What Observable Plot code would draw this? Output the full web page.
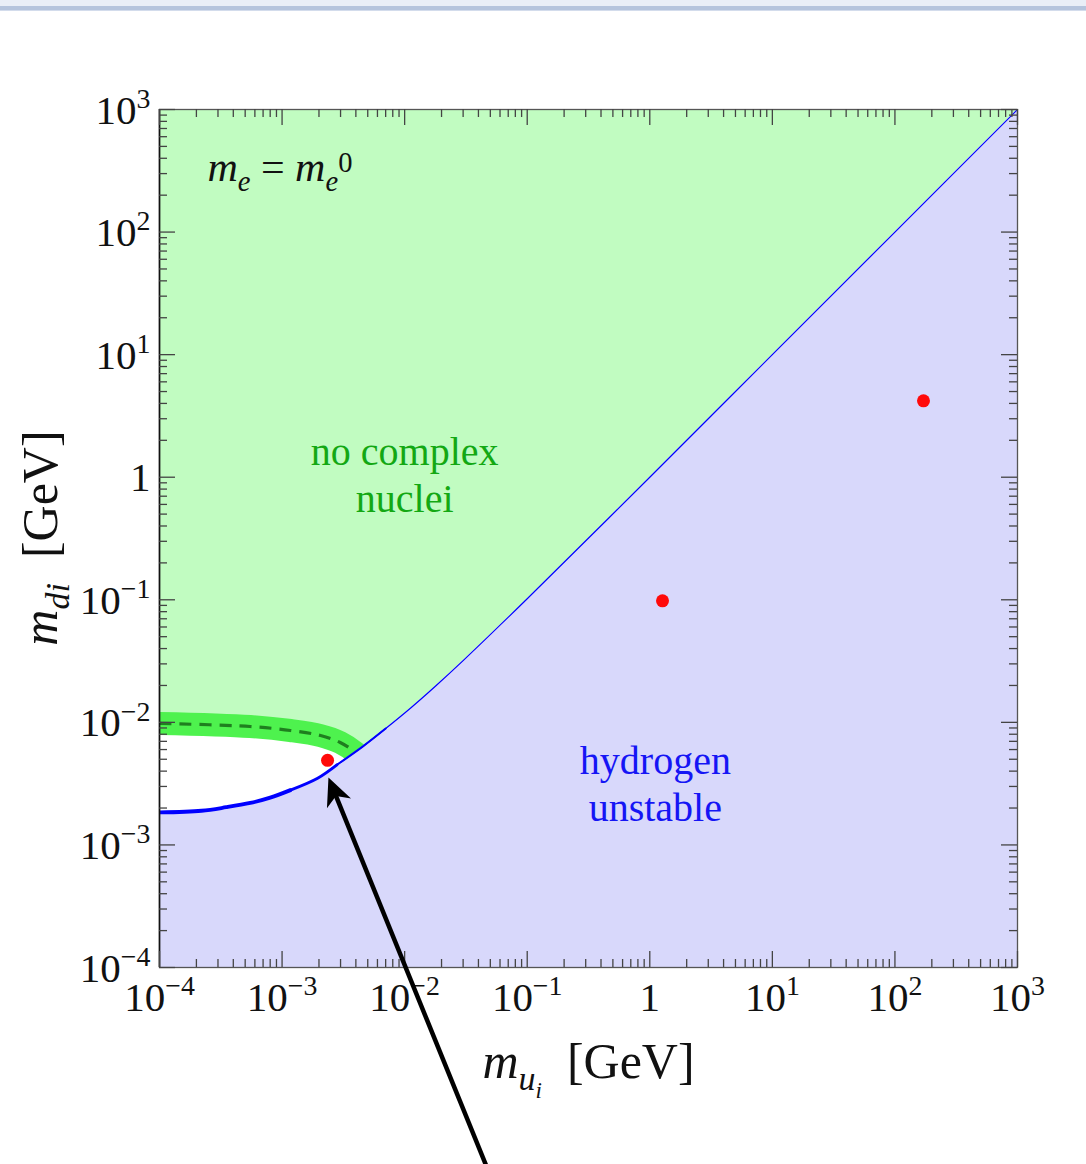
<!DOCTYPE html>
<html>
<head>
<meta charset="utf-8">
<script src="https://cdn.jsdelivr.net/npm/d3@7"></script>
<script src="https://cdn.jsdelivr.net/npm/@observablehq/plot@0.6"></script>
<style>
  body { margin: 0; background: #fff; }
  #chrome { position: absolute; left: 0; top: 0; width: 1086px; height: 11px;
    background: linear-gradient(#e9eef7 0 6px, #b5c4dd 6px 10px, #d3dcec 10px 11px); }
</style>
</head>
<body>
<div id="chrome"></div>
<div id="chart"></div>
<script>
// Quark masses (GeV): up-type on x, down-type on y, one point per generation
const quarkMu = [0.00235, 1.27, 171];
const quarkMd = [0.0049, 0.098, 4.2];

// Boundary below which hydrogen is unstable (m_d vs m_u, GeV)
const hydrogenEdge = [
  [1e-4, 0.00184], [2.2e-4, 0.0019], [3.5e-4, 0.00203], [5.5e-4, 0.0022],
  [8e-4, 0.00243], [0.00117, 0.0028], [0.00195, 0.0035], [0.0028, 0.0045],
  [0.0046, 0.0064], [0.007, 0.0089], [0.0112, 0.0131], [0.018, 0.0199],
  [0.03, 0.0319], [0.1, 0.102], [1, 1.0], [10, 10], [100, 100], [1000, 1000]
];

// Centre of the complex-nuclei band (dashed curve)
const nucleiBand = [
  [1e-4, 0.0098], [5.5e-4, 0.00925], [0.00117, 0.00858], [0.00206, 0.00781],
  [0.00298, 0.00685], [0.00397, 0.00567], [0.00507, 0.00437]
];

// Axis ticks and their labels
const majorTicks = [1e-4, 1e-3, 1e-2, 1e-1, 1, 10, 100, 1000];
const tickLabels = ["10^{−4}", "10^{−3}", "10^{−2}", "10^{−1}", "1", "10^{1}", "10^{2}", "10^{3}"];
const minorTicks = d3.range(-4, 3).flatMap(e => d3.range(2, 10).map(m => m * 10 ** e));

// Region labels
const regionLabels = [
  {text: "no complex\nnuclei", mu: 0.01, md: 1.07, color: "#13a813"},
  {text: "hydrogen\nunstable", mu: 1.11, md: 0.00323, color: "#1515f5"}
];
const panelLabel = {text: "$m$_{$e$} = $m$_{$e$}^[0.2]{0}", mu: 2.46e-4, md: 263};
const yTitle = {text: "$m$_{$di$}  [GeV]", md: 0.319};

// Arrow pointing at the first-generation point
const arrowTail = [0.05, 2e-6];
const arrowTip = [0.00239, 0.00355];

const width = 1086, height = 1164;
const margin = {left: 159, right: 69, top: 109, bottom: 197};
const frameW = width - margin.left - margin.right;
const frameH = height - margin.top - margin.bottom;
const majorLen = 16, minorLen = 8;
const serif = "'Liberation Serif', 'Times New Roman', serif";

const labelOf = v => tickLabels[majorTicks.indexOf(v)];
const whiteGap = [
  ...hydrogenEdge.filter(d => d[0] <= 0.0046),
  ...nucleiBand.filter(d => d[0] <= 0.004).reverse()
];

// Both axes span seven decades over a square frame, so the screen angle
// follows directly from the log ratios.
const arrowAngle = Math.atan2(
  Math.log10(arrowTip[0] / arrowTail[0]),
  Math.log10(arrowTip[1] / arrowTail[1])
) * 180 / Math.PI;

const arrowHead = {
  draw(ctx, size) {
    const s = Math.sqrt(size / Math.PI) / 12;
    ctx.moveTo(0, 0);
    ctx.lineTo(-13 * s, 28 * s);
    ctx.lineTo(0, 20 * s);
    ctx.lineTo(13 * s, 28 * s);
    ctx.closePath();
  }
};

const tickStyle = {stroke: "#444", strokeWidth: 1.3};
const xy = {x: d => d[0], y: d => d[1]};

const chart = Plot.plot({
  width, height,
  marginLeft: margin.left, marginRight: margin.right,
  marginTop: margin.top, marginBottom: margin.bottom,
  style: {fontFamily: serif, background: "transparent"},
  x: {type: "log", domain: [1e-4, 1e3], axis: null},
  y: {type: "log", domain: [1e-4, 1e3], axis: null},
  marks: [
    Plot.frame({fill: "#c1fcc1", stroke: "none"}),
    Plot.line(whiteGap, {...xy, fill: "white", stroke: "none", clip: true}),
    Plot.line(nucleiBand, {...xy, stroke: "#4ef24e", strokeWidth: 23,
      strokeLinecap: "butt", curve: "catmull-rom", clip: true}),
    Plot.line(nucleiBand, {...xy, stroke: "#1f7f1f", strokeWidth: 3.2,
      strokeDasharray: "12,8", strokeLinecap: "butt", curve: "catmull-rom", clip: true}),
    Plot.areaY(hydrogenEdge, {x: d => d[0], y1: () => 1e-4, y2: d => d[1], fill: "#d8d8fb",
      curve: "catmull-rom", clip: true}),
    Plot.line(hydrogenEdge, {...xy, stroke: "#0000ff", strokeWidth: 1.2, curve: "catmull-rom", clip: true}),
    Plot.line(hydrogenEdge.slice(0, 6), {...xy, stroke: "#0000ff", strokeWidth: 3.8, curve: "catmull-rom", clip: true}),
    Plot.line(hydrogenEdge.slice(5, 8), {...xy, stroke: "#0000ff", strokeWidth: 3, curve: "catmull-rom"}),
    Plot.line(hydrogenEdge.slice(7, 10), {...xy, stroke: "#0000ff", strokeWidth: 2, curve: "catmull-rom"}),
    Plot.dot(quarkMu, {x: d => d, y: (d, i) => quarkMd[i], r: 6.5, fill: "#ff0a0a", stroke: "none"}),
    Plot.frame({stroke: "#555", strokeWidth: 1.3}),
    Plot.ruleX([1e-4], {stroke: "#111", strokeWidth: 1.6}),
    // inward ticks on all four sides
    Plot.tickX(majorTicks, {x: d => d, insetTop: frameH - majorLen, ...tickStyle}),
    Plot.tickX(minorTicks, {x: d => d, insetTop: frameH - minorLen, ...tickStyle}),
    Plot.tickX(majorTicks, {x: d => d, insetBottom: frameH - majorLen, ...tickStyle}),
    Plot.tickX(minorTicks, {x: d => d, insetBottom: frameH - minorLen, ...tickStyle}),
    Plot.tickY(majorTicks, {y: d => d, insetRight: frameW - majorLen, ...tickStyle}),
    Plot.tickY(minorTicks, {y: d => d, insetRight: frameW - minorLen, ...tickStyle}),
    Plot.tickY(majorTicks, {y: d => d, insetLeft: frameW - majorLen, ...tickStyle}),
    Plot.tickY(minorTicks, {y: d => d, insetLeft: frameW - minorLen, ...tickStyle}),
    // tick labels
    Plot.text(majorTicks, {x: d => d, text: labelOf, frameAnchor: "bottom", dy: 43,
      lineAnchor: "bottom", fontSize: 41, fill: "#111"}),
    Plot.text(majorTicks, {y: d => d, text: labelOf, frameAnchor: "left", dx: -9, dy: 14,
      textAnchor: "end", lineAnchor: "bottom", fontSize: 41, fill: "#111"}),
    // axis titles
    Plot.text(["$m$_{$u$_{$i$}}  [GeV]"], {frameAnchor: "bottom", dy: 110, lineAnchor: "bottom",
      textAnchor: "middle", fontSize: 50, fill: "#111"}),
    Plot.text([yTitle], {y: "md", text: "text", frameAnchor: "left", dx: -103, rotate: -90,
      textAnchor: "middle", lineAnchor: "bottom", fontSize: 50, fill: "#111"}),
    // region labels
    Plot.text(regionLabels, {x: "mu", y: "md", text: "text", fill: "color", fontSize: 40,
      lineAnchor: "middle", lineHeight: 1.17}),
    Plot.text([panelLabel], {x: "mu", y: "md", text: "text", textAnchor: "start", lineAnchor: "bottom",
      fontSize: 42, fill: "#111"}),
    // arrow
    Plot.arrow([{tail: arrowTail, tip: arrowTip}], {x1: d => d.tail[0], y1: d => d.tail[1],
      x2: d => d.tip[0], y2: d => d.tip[1], headLength: 0, insetEnd: 18, stroke: "black",
      strokeWidth: 4.5, strokeLinecap: "butt"}),
    Plot.dot([arrowTip], {x: d => d[0], y: d => d[1], symbol: arrowHead, r: 12, fill: "black",
      stroke: "none", rotate: arrowAngle})
  ]
});

document.getElementById("chart").appendChild(chart);

// Turn the light markup ($italic$, _{sub}, ^{sup}, ^[shift]{sup}) into tspans
function parseRich(s) {
  const out = [], stack = [{shift: 0, scale: 1}];
  let italic = false, buf = "";
  const flush = () => {
    if (buf) {
      const t = stack[stack.length - 1];
      out.push({text: buf, italic, shift: t.shift, scale: t.scale});
      buf = "";
    }
  };
  for (let i = 0; i < s.length; i++) {
    const c = s[i];
    if (c === "$") { flush(); italic = !italic; }
    else if ((c === "_" || c === "^") && (s[i + 1] === "{" || s[i + 1] === "[")) {
      flush();
      let amount = c === "_" ? 0.24 : -0.38;
      let j = i + 1;
      if (s[j] === "[") {
        const k = s.indexOf("]", j);
        amount = (c === "_" ? 1 : -1) * parseFloat(s.slice(j + 1, k));
        j = k + 1;
      }
      const t = stack[stack.length - 1];
      stack.push({shift: t.shift + amount * t.scale, scale: t.scale * 0.68});
      i = j;
    }
    else if (c === "}") { flush(); stack.pop(); }
    else buf += c;
  }
  flush();
  return out;
}

const svgNS = "http://www.w3.org/2000/svg";
for (const el of chart.querySelectorAll("text")) {
  const s = el.textContent;
  if (!/[$^_]/.test(s)) continue;
  const base = parseFloat(getComputedStyle(el).fontSize);
  const segs = parseRich(s);
  while (el.firstChild) el.removeChild(el.firstChild);
  el.setAttribute("xml:space", "preserve");
  el.style.whiteSpace = "pre";
  let cur = 0;
  for (const g of segs) {
    const t = document.createElementNS(svgNS, "tspan");
    t.textContent = g.text;
    t.setAttribute("font-size", base * g.scale);
    if (g.italic) t.setAttribute("font-style", "italic");
    const dy = (g.shift - cur) * base;
    if (dy) t.setAttribute("dy", dy);
    cur = g.shift;
    el.appendChild(t);
  }
}
</script>
</body>
</html>
